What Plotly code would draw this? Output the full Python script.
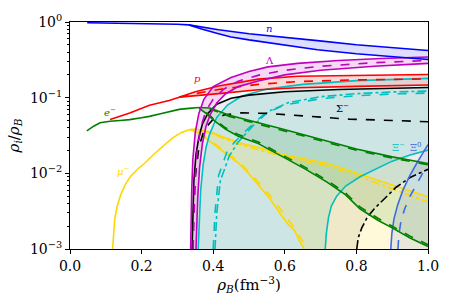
import math
import plotly.graph_objects as go

# ---------------- data ----------------
Y_FLOOR = 1e-3

# neutron
n_com_x = [0.048, 0.10, 0.20, 0.30, 0.332]
n_com_y = [0.977, 0.970, 0.955, 0.935, 0.916]
n_up_x = [0.332, 0.37, 0.415, 0.50, 0.553, 0.636, 0.691, 0.80, 0.90, 1.0]
n_up_y = [0.916, 0.85, 0.79, 0.70, 0.663, 0.60, 0.568, 0.50, 0.455, 0.42]
n_lo_x = [0.332, 0.37, 0.415, 0.45, 0.50, 0.553, 0.636, 0.691, 0.80, 0.90, 1.0]
n_lo_y = [0.916, 0.80, 0.70, 0.635, 0.58, 0.535, 0.47, 0.43, 0.38, 0.345, 0.32]

# proton
p_com_x = [0.112, 0.167, 0.222, 0.277, 0.305]
p_com_y = [0.0513, 0.0625, 0.0796, 0.092, 0.1016]
p_up_x = [0.305, 0.35, 0.415, 0.526, 0.636, 0.80, 1.0]
p_up_y = [0.1016, 0.12, 0.143, 0.176, 0.192, 0.197, 0.202]
p_lo_x = [0.305, 0.35, 0.415, 0.526, 0.636, 0.80, 1.0]
p_lo_y = [0.1016, 0.107, 0.113, 0.127, 0.135, 0.141, 0.147]
p_da_x = [0.305, 0.35, 0.415, 0.526, 0.636, 0.80, 1.0]
p_da_y = [0.1016, 0.113, 0.128, 0.150, 0.163, 0.172, 0.177]

# Lambda
L_up_x = [0.337, 0.338, 0.340, 0.343, 0.350, 0.360, 0.374, 0.40, 0.45, 0.50, 0.553, 0.636, 0.75, 0.87, 1.0]
L_up_y = [0.001, 0.002, 0.006, 0.015, 0.035, 0.062, 0.095, 0.14, 0.185, 0.222, 0.255, 0.284, 0.31, 0.33, 0.345]
L_lo_x = [0.352, 0.354, 0.357, 0.362, 0.37, 0.38, 0.392, 0.41, 0.434, 0.47, 0.526, 0.60, 0.70, 0.85, 1.0]
L_lo_y = [0.001, 0.002, 0.005, 0.012, 0.025, 0.042, 0.060, 0.085, 0.112, 0.14, 0.166, 0.20, 0.23, 0.26, 0.284]
L_da_x = [0.344, 0.346, 0.349, 0.355, 0.365, 0.38, 0.40, 0.43, 0.47, 0.53, 0.60, 0.70, 0.85, 1.0]
L_da_y = [0.001, 0.003, 0.008, 0.020, 0.040, 0.068, 0.095, 0.13, 0.165, 0.20, 0.23, 0.26, 0.29, 0.31]

# electron
e_com_x = [0.047, 0.055, 0.066, 0.084, 0.10, 0.112, 0.14, 0.167, 0.195, 0.222, 0.25, 0.277, 0.305, 0.332, 0.36]
e_com_y = [0.0365, 0.039, 0.042, 0.0465, 0.048, 0.0487, 0.050, 0.0513, 0.054, 0.0566, 0.061, 0.0655, 0.070, 0.0723, 0.074]
e_up_x = [0.36, 0.39, 0.415, 0.443, 0.48, 0.526, 0.58, 0.645, 0.719, 0.80, 0.90, 1.0]
e_up_y = [0.074, 0.073, 0.066, 0.059, 0.053, 0.047, 0.040, 0.033, 0.0265, 0.021, 0.0165, 0.0135]
e_lo_x = [0.36, 0.38, 0.40, 0.434, 0.47, 0.526, 0.60, 0.66, 0.719, 0.77, 0.81, 0.86, 0.90, 0.95, 1.0]
e_lo_y = [0.073, 0.062, 0.051, 0.0383, 0.031, 0.0247, 0.016, 0.0112, 0.0076, 0.0052, 0.0034, 0.0024, 0.0019, 0.0014, 0.00108]
e_upd_x = [0.39, 0.415, 0.443, 0.48, 0.526, 0.58, 0.645, 0.719, 0.80, 0.90, 1.0]
e_upd_y = [0.071, 0.064, 0.057, 0.051, 0.045, 0.0385, 0.0318, 0.0255, 0.0202, 0.0159, 0.013]
e_lod_x = [0.38, 0.40, 0.434, 0.47, 0.526, 0.60, 0.66, 0.719, 0.77, 0.81, 0.86, 0.90, 0.95, 1.0]
e_lod_y = [0.064, 0.053, 0.040, 0.0325, 0.026, 0.0168, 0.0118, 0.0080, 0.0055, 0.0036, 0.00255, 0.0020, 0.00148, 0.00114]

# muon
mu_com_x = [0.119, 0.121, 0.125, 0.132, 0.142, 0.155, 0.17, 0.19, 0.21, 0.235, 0.26, 0.285, 0.31, 0.335]
mu_com_y = [0.001, 0.0016, 0.0025, 0.0037, 0.0053, 0.0072, 0.0092, 0.0115, 0.0138, 0.018, 0.023, 0.029, 0.0345, 0.038]
mu_up_x = [0.335, 0.35, 0.37, 0.397, 0.43, 0.47, 0.526, 0.60, 0.72, 0.81, 0.90, 1.0]
mu_up_y = [0.038, 0.0385, 0.037, 0.0345, 0.030, 0.0255, 0.022, 0.0175, 0.0135, 0.0098, 0.0070, 0.0049]
mu_lo_x = [0.335, 0.36, 0.38, 0.406, 0.43, 0.47, 0.50, 0.526, 0.56, 0.59, 0.61, 0.627, 0.64, 0.654]
mu_lo_y = [0.038, 0.034, 0.029, 0.0234, 0.019, 0.0137, 0.0098, 0.0070, 0.0045, 0.0028, 0.0021, 0.00176, 0.0013, 0.001]
mu_upd_x = [0.36, 0.397, 0.43, 0.47, 0.526, 0.60, 0.72, 0.81, 0.90, 1.0]
mu_upd_y = [0.037, 0.0335, 0.029, 0.0245, 0.0205, 0.0165, 0.0125, 0.0090, 0.0062, 0.0042]
mu_lod_x = [0.36, 0.38, 0.406, 0.43, 0.47, 0.50, 0.526, 0.56, 0.59, 0.62, 0.64, 0.663]
mu_lod_y = [0.035, 0.030, 0.0245, 0.020, 0.0145, 0.0105, 0.0077, 0.0050, 0.0032, 0.0021, 0.0015, 0.001]

# Sigma-
S_so_x = [0.341, 0.343, 0.346, 0.352, 0.36, 0.37, 0.385, 0.41, 0.45, 0.50, 0.60, 0.75, 0.90, 1.0]
S_so_y = [0.001, 0.003, 0.008, 0.018, 0.030, 0.045, 0.062, 0.082, 0.098, 0.108, 0.120, 0.128, 0.133, 0.136]
S_da_x = [0.343, 0.345, 0.35, 0.36, 0.375, 0.40, 0.43, 0.48, 0.55, 0.65, 0.78, 0.90, 1.0]
S_da_y = [0.001, 0.003, 0.009, 0.022, 0.038, 0.052, 0.059, 0.063, 0.062, 0.058, 0.052, 0.050, 0.048]
S_dd_x = [0.801, 0.805, 0.815, 0.83, 0.85, 0.875, 0.91, 0.95, 1.0]
S_dd_y = [0.001, 0.0014, 0.0019, 0.0026, 0.0034, 0.0045, 0.0065, 0.0088, 0.0113]

# Xi-
X_up_x = [0.358, 0.36, 0.365, 0.372, 0.38, 0.39, 0.41, 0.44, 0.48, 0.55, 0.65, 0.80, 1.0]
X_up_y = [0.001, 0.002, 0.006, 0.013, 0.022, 0.033, 0.055, 0.080, 0.105, 0.130, 0.150, 0.168, 0.180]
X_da_x = [0.40, 0.405, 0.415, 0.438, 0.46, 0.50, 0.545, 0.60, 0.70, 0.80, 0.90, 1.0]
X_da_y = [0.001, 0.003, 0.0093, 0.019, 0.026, 0.040, 0.062, 0.080, 0.097, 0.106, 0.112, 0.115]
X_dd_x = [0.405, 0.41, 0.42, 0.445, 0.47, 0.51, 0.555, 0.61, 0.70, 0.80, 0.90, 1.0]
X_dd_y = [0.001, 0.003, 0.008, 0.017, 0.026, 0.042, 0.066, 0.086, 0.103, 0.113, 0.119, 0.122]
X_lo_x = [0.713, 0.716, 0.722, 0.73, 0.745, 0.77, 0.81, 0.86, 0.90, 0.95, 1.0]
X_lo_y = [0.001, 0.0016, 0.0026, 0.0037, 0.0050, 0.0068, 0.0090, 0.0118, 0.0145, 0.0175, 0.0203]

# Xi0
X0_so_x = [0.896, 0.899, 0.905, 0.915, 0.93, 0.95, 0.97, 1.0]
X0_so_y = [0.001, 0.0016, 0.0025, 0.0038, 0.0060, 0.0095, 0.014, 0.024]
X0_da_x = [0.916, 0.919, 0.925, 0.935, 0.95, 0.97, 0.985, 1.0]
X0_da_y = [0.001, 0.0016, 0.0024, 0.0034, 0.0050, 0.0075, 0.0100, 0.0135]

x_tick_vals = [0.0, 0.2, 0.4, 0.6, 0.8, 1.0]
x_tick_text = ["0.0", "0.2", "0.4", "0.6", "0.8", "1.0"]
y_tick_vals = [1e-3, 1e-2, 1e-1, 1]
y_tick_text = ["10<sup>−3</sup>", "10<sup>−2</sup>", "10<sup>−1</sup>", "10<sup>0</sup>"]

labels = [
    ("<i>n</i>", 0.555, 0.82, "#0000ff"),
    ("Λ", 0.556, 0.31, "#bf00bf"),
    ("<i>p</i>", 0.356, 0.178, "#ff0000"),
    ("<i>e</i><sup>−</sup>", 0.112, 0.064, "#008000"),
    ("<i>μ</i><sup>−</sup>", 0.150, 0.0108, "#ffd700"),
    ("Σ<sup>−</sup>", 0.76, 0.073, "#000000"),
    ("Ξ<sup>−</sup>", 0.918, 0.0225, "#00bfbf"),
    ("Ξ<sup>0</sup>", 0.967, 0.0225, "#4169e1"),
]

FONT = "DejaVu Serif"
fig = go.Figure()


def poly(xs_list, ys_list, color):
    xs, ys = [], []
    for a, b in zip(xs_list, ys_list):
        xs += list(a)
        ys += list(b)
    fig.add_trace(go.Scatter(x=xs, y=ys, mode="lines", fill="toself", fillcolor=color,
                             line=dict(width=0), hoverinfo="skip", showlegend=False))


def line(x, y, color, dash="solid", width=1.6):
    fig.add_trace(go.Scatter(x=x, y=y, mode="lines", line=dict(color=color, width=width, dash=dash),
                             hoverinfo="skip", showlegend=False))


# ---- fills ----
poly([X_up_x, X_lo_x[::-1]], [X_up_y, X_lo_y[::-1]], "rgba(0,191,191,0.13)")
poly([S_so_x, S_dd_x[::-1]], [S_so_y, S_dd_y[::-1]], "rgba(0,0,0,0.07)")
poly([mu_up_x, [1.0], mu_lo_x[::-1]], [mu_up_y, [Y_FLOOR], mu_lo_y[::-1]], "rgba(255,215,0,0.15)")
poly([e_up_x, e_lo_x[::-1]], [e_up_y, e_lo_y[::-1]], "rgba(0,128,0,0.12)")
poly([X0_so_x, [1.0]], [X0_so_y, [Y_FLOOR]], "rgba(65,105,225,0.12)")
poly([L_up_x, L_lo_x[::-1]], [L_up_y, L_lo_y[::-1]], "rgba(191,0,191,0.15)")
poly([p_up_x, p_lo_x[::-1]], [p_up_y, p_lo_y[::-1]], "rgba(255,0,0,0.15)")
poly([n_up_x, n_lo_x[::-1]], [n_up_y, n_lo_y[::-1]], "rgba(0,0,255,0.13)")

# ---- lines ----
GOLD, GREEN, RED, MAG, CYAN, BLUE, RBLUE = "#ffd700", "#008000", "#ff0000", "#bf00bf", "#00bfbf", "#0000ff", "#4169e1"
line(mu_com_x, mu_com_y, GOLD)
line(mu_up_x, mu_up_y, GOLD)
line(mu_lo_x, mu_lo_y, GOLD)
line(mu_upd_x, mu_upd_y, GOLD, "dashdot")
line(mu_lod_x, mu_lod_y, GOLD, "dash")

line(X_up_x, X_up_y, CYAN)
line(X_da_x, X_da_y, CYAN, "dash")
line(X_dd_x, X_dd_y, CYAN, "dashdot")
line(X_lo_x, X_lo_y, CYAN)

line(S_so_x, S_so_y, "#000000")
line(S_da_x, S_da_y, "#000000", "dash")
line(S_dd_x, S_dd_y, "#000000", "dashdot")

line(X0_so_x, X0_so_y, RBLUE)
line(X0_da_x, X0_da_y, RBLUE, "dash")

line(p_com_x, p_com_y, RED)
line(p_up_x, p_up_y, RED)
line(p_lo_x, p_lo_y, RED)
line(p_da_x, p_da_y, RED, "dash")

line(e_com_x, e_com_y, GREEN)
line(e_up_x, e_up_y, GREEN)
line(e_lo_x, e_lo_y, GREEN)
line(e_upd_x, e_upd_y, GREEN, "dash")
line(e_lod_x, e_lod_y, GREEN, "dash")

line(L_up_x, L_up_y, MAG)
line(L_lo_x, L_lo_y, MAG)
line(L_da_x, L_da_y, MAG, "dash")

line(n_com_x, n_com_y, BLUE)
line(n_up_x, n_up_y, BLUE)
line(n_lo_x, n_lo_y, BLUE)

# annotations on a log axis take log10 positions
for txt, lx, ly, col in labels:
    fig.add_annotation(x=lx, y=math.log10(ly), xref="x", yref="y", text=txt, showarrow=False,
                       font=dict(family=FONT, size=10, color=col))

minor_vals = [m * 10 ** k for k in (-3, -2, -1) for m in range(2, 10)]

fig.update_layout(
    width=451, height=305,
    margin=dict(l=70, r=19, t=14, b=56),
    paper_bgcolor="white", plot_bgcolor="white",
    font=dict(family=FONT, size=14, color="black"),
    xaxis=dict(range=[0, 1], tickvals=x_tick_vals, ticktext=x_tick_text,
               ticks="outside", ticklen=4, tickwidth=1, tickcolor="black",
               showline=True, linecolor="black", linewidth=1, mirror=True,
               showgrid=False, zeroline=False,
               title=dict(text="<i>ρ<sub>B</sub></i>(fm<sup>−3</sup>)", font=dict(size=15), standoff=6)),
    yaxis=dict(type="log", range=[-3, 0], tickvals=y_tick_vals, ticktext=y_tick_text,
               ticks="outside", ticklen=4, tickwidth=1, tickcolor="black",
               showline=True, linecolor="black", linewidth=1, mirror=True,
               showgrid=False, zeroline=False,
               minor=dict(tickvals=minor_vals, ticks="outside", ticklen=2, tickwidth=0.8,
                          tickcolor="black", showgrid=False),
               title=dict(text="<i>ρ<sub>i</sub></i>/<i>ρ<sub>B</sub></i>", font=dict(size=15), standoff=6)),
)

fig.write_html("out.html", config={"displayModeBar": False},
               post_script="document.body.style.margin='0';document.body.style.overflow='hidden';")
